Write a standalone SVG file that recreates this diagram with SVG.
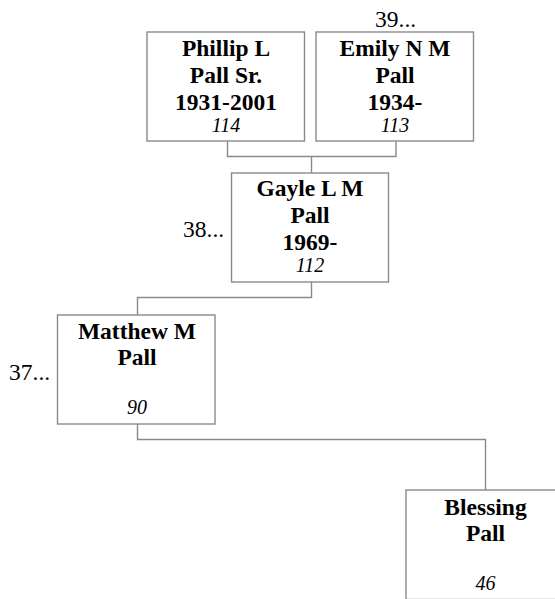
<svg xmlns="http://www.w3.org/2000/svg" width="555" height="599" viewBox="0 0 555 599">
<style>
.box{fill:#fff;stroke:#8a8a8a;stroke-width:1.4}
.ln{fill:none;stroke:#8a8a8a;stroke-width:1.4}
text{font-family:'Liberation Serif','Times New Roman',Times,'DejaVu Serif',serif;fill:#000}
.b{font-weight:bold;font-size:23.5px;text-anchor:middle}
.i{font-style:italic;font-size:20px;text-anchor:middle}
.n{font-size:23.5px}
</style>
<rect width="555" height="599" fill="#fff"/>
<g id="connectors">
<path class="ln" d="M227.5,141 V156.5 H396 V141 M311.5,156.5 V173"/>
<path class="ln" d="M311.5,282 V297.5 H137.5 V315"/>
<path class="ln" d="M137.5,424 V439.5 H485.5 V490"/>
</g>
<g id="phillip">
<rect class="box" x="147" y="32" width="157.5" height="109"/>
<text class="b" x="226" y="56">Phillip L</text>
<text class="b" x="226" y="83">Pall Sr.</text>
<text class="b" x="226" y="109.5">1931-2001</text>
<text class="i" x="226" y="131.5">114</text>
</g>
<g id="emily">
<rect class="box" x="316" y="32" width="157.5" height="109"/>
<text class="n" x="375" y="26.5">39...</text>
<text class="b" x="395" y="56">Emily N M</text>
<text class="b" x="395" y="83">Pall</text>
<text class="b" x="395" y="109.5">1934-</text>
<text class="i" x="395" y="131.5">113</text>
</g>
<g id="gayle">
<rect class="box" x="231.5" y="173" width="157" height="109"/>
<text class="n" x="183" y="237">38...</text>
<text class="b" x="310" y="196">Gayle L M</text>
<text class="b" x="310" y="223">Pall</text>
<text class="b" x="310" y="250">1969-</text>
<text class="i" x="310" y="271.5">112</text>
</g>
<g id="matthew">
<rect class="box" x="57.5" y="315" width="157.5" height="109"/>
<text class="n" x="9" y="380">37...</text>
<text class="b" x="137" y="338.5">Matthew M</text>
<text class="b" x="137" y="365">Pall</text>
<text class="i" x="137" y="413.5">90</text>
</g>
<g id="blessing">
<rect class="box" x="406" y="490" width="158" height="109.5"/>
<text class="b" x="485.5" y="515">Blessing</text>
<text class="b" x="485.5" y="541">Pall</text>
<text class="i" x="485.5" y="590">46</text>
</g>
</svg>
